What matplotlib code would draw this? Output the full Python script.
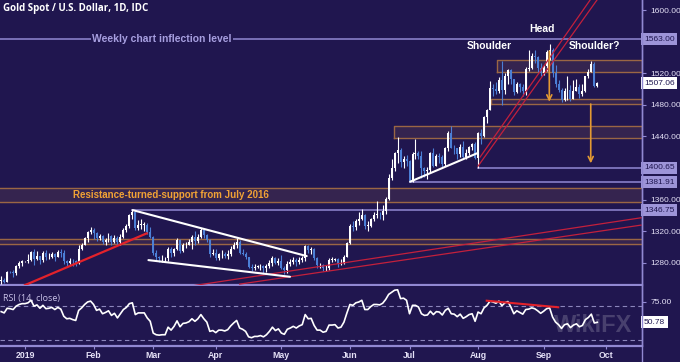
import numpy as np
import pandas as pd
import matplotlib
matplotlib.use("Agg")
import matplotlib.pyplot as plt
import matplotlib.transforms as mtrans
from matplotlib.lines import Line2D

# ---------------- data ----------------
first_day, last_day = "2018-12-20", "2019-09-26"

opens = [1257,1258,1256,1269,1268,1267,1276,1280,
 1282,1282,1284,1294,1285,1289,1284,1292,1287,1288,1291,1288,1294,1292,1282,1280,1283,1282,1280,1297,1303,1312,1319,
 1321,1318,1311,1314,1307,1309,1314,1307,1311,1306,1313,1322,1327,1340,1345,1324,1328,1328,1328,1319,
 1313,1293,1287,1286,1286,1286,1298,1292,1297,1309,1295,1302,1303,1306,1313,1308,1313,1322,1315,1309,1291,
 1292,1286,1291,1291,1289,1291,1298,1303,1307,1293,1291,1287,1275,1273,1275,1275,1276,1273,1276,1280,1286,1280,
 1283,1274,1271,1279,1281,1284,1281,1284,1286,1301,1296,1297,1286,1277,1277,1273,1274,1284,1284,1285,1279,1280,1288,
 1305,1327,1325,1333,1336,1341,1327,1327,1335,1341,1341,1340,1346,1361,1388,1400,1419,1423,1408,1412,
 1409,1384,1418,1419,1415,1400,1396,1397,1419,1403,1415,1414,1405,1425,1445,1426,1425,1418,1427,1414,1419,1427,1431,
 1413,1445,1440,1464,1474,1501,1500,1497,1511,1499,1517,1524,1513,1496,1507,1502,1497,1526,1527,1542,1540,1527,
 1520,1529,1547,1550,1520,1506,1499,1486,1497,1499,1488,1498,1502,1494,1498,1516,1522,1532,1504]

highs = [1263,1261,1270,1270,1271,1277,1283,1284,
 1283,1291,1295,1298,1295,1289,1295,1296,1292,1294,1293,1296,1297,1296,1284,1286,1285,1284,1303,1305,1313,1320,1326,
 1324,1319,1316,1315,1312,1318,1315,1315,1314,1316,1324,1329,1342,1347,1346,1334,1335,1332,1331,1325,
 1314,1296,1289,1290,1288,1300,1300,1299,1311,1310,1305,1306,1310,1315,1320,1316,1324,1323,1317,1310,1298,
 1297,1293,1296,1294,1296,1301,1306,1311,1309,1298,1294,1288,1279,1278,1277,1279,1277,1278,1284,1289,1287,1286,
 1290,1276,1282,1285,1287,1286,1288,1289,1302,1303,1300,1299,1288,1280,1278,1277,1286,1287,1286,1286,1285,1290,1306,
 1329,1333,1336,1344,1348,1342,1333,1337,1345,1358,1345,1353,1363,1393,1411,1420,1439,1425,1415,1416,
 1410,1420,1437,1422,1421,1401,1401,1420,1426,1418,1419,1416,1427,1447,1453,1429,1426,1430,1434,1424,1428,1432,1433,
 1446,1449,1466,1475,1510,1506,1509,1515,1535,1520,1526,1525,1513,1509,1508,1506,1528,1549,1546,1550,1542,1533,
 1530,1550,1557,1552,1530,1512,1501,1501,1517,1505,1512,1513,1507,1507,1517,1525,1535,1534,1509]

lows = [1253,1254,1256,1267,1262,1265,1273,1276,
 1281,1280,1283,1277,1284,1279,1281,1284,1285,1286,1283,1287,1288,1279,1276,1278,1276,1276,1279,1296,1302,1307,1316,
 1310,1308,1309,1304,1302,1306,1302,1305,1302,1303,1311,1319,1324,1336,1321,1322,1323,1320,1316,1312,
 1290,1283,1281,1281,1281,1283,1288,1289,1296,1292,1294,1299,1302,1298,1303,1305,1312,1312,1307,1288,1290,
 1284,1284,1286,1286,1285,1289,1297,1299,1291,1290,1285,1273,1270,1271,1274,1271,1266,1268,1274,1276,1278,1277,
 1272,1266,1267,1276,1278,1276,1279,1281,1282,1293,1291,1284,1274,1273,1270,1270,1271,1281,1282,1275,1277,1279,1287,
 1304,1320,1322,1328,1334,1323,1320,1326,1333,1337,1336,1334,1342,1359,1385,1396,1406,1401,1400,1402,
 1382,1382,1411,1411,1387,1389,1386,1394,1401,1402,1406,1401,1403,1422,1425,1418,1412,1414,1413,1412,1416,1423,1412,
 1400.65,1430,1439,1457,1473,1491,1494,1495,1480,1494,1506,1507,1493,1495,1496,1491,1492,1523,1525,1533,1521,1516,
 1518,1523,1537,1515,1503,1496,1484,1485,1486,1485,1487,1497,1489,1491,1496,1514,1521,1503,1503]

closes = [1258,1256,1269,1268,1267,1276,1280,1282,
 1282,1284,1294,1285,1289,1284,1292,1287,1288,1291,1288,1294,1292,1282,1280,1283,1282,1280,1297,1303,1312,1319,1321,
 1318,1311,1314,1307,1309,1314,1307,1311,1306,1313,1322,1327,1340,1345,1324,1328,1328,1328,1319,1313,
 1293,1287,1286,1286,1286,1298,1292,1297,1309,1295,1302,1303,1306,1313,1308,1313,1322,1315,1309,1291,1292,
 1286,1291,1291,1289,1291,1298,1303,1307,1293,1291,1287,1275,1273,1275,1275,1276,1273,1276,1280,1286,1280,1283,
 1274,1271,1279,1281,1284,1281,1284,1286,1301,1296,1297,1286,1277,1277,1273,1274,1284,1284,1285,1279,1280,1288,1305,
 1327,1325,1333,1336,1341,1327,1327,1335,1341,1341,1340,1346,1361,1388,1400,1419,1423,1408,1412,1409,
 1384,1418,1419,1415,1400,1396,1397,1419,1403,1415,1414,1405,1425,1445,1426,1425,1418,1427,1414,1419,1427,1431,1413,
 1445,1440,1464,1474,1501,1500,1497,1511,1499,1517,1524,1513,1496,1507,1502,1497,1526,1527,1542,1540,1527,1520,
 1529,1547,1550,1520,1506,1499,1486,1497,1499,1488,1498,1502,1494,1498,1516,1522,1532,1504,1507.06]

rsi = [63.5,62,67.5,67,66,70,72,73,
 73,74,77,70,71.5,67.5,71,67,67.5,68.5,66,68.5,66.5,58,55,55.5,54,53,65,68,72,75,76,
 72,65,66.5,61,62.5,64.5,59,61.5,56,61,66,68.5,73,74,60,62,62,62,56,52,
 38,36,35.5,36,36,45,41.5,46,52.5,45.5,49.5,50,51.5,55,52,55,60,55,51,40,41,
 38.5,41.5,41.5,40.5,42,46.5,50,53,44,42.5,40,33.5,32.5,34,34,35,33.5,36,40,45,41,43,
 38,36.5,42.5,44,46,44,46.5,48,60,55,55.5,47,41.5,41.5,39,40,47.5,47.5,48,44,45,51,62,
 72,71,74,75,77,66,66,69.5,72,72,71.5,73.5,78,84,86.5,89,89.5,79,79.5,77,
 61,71,71,69,61,59,59.5,64,60,63.5,63,59.5,65,67.5,61,60.5,57.5,60.5,55.5,57.5,60,61,52,
 63,61,68,71,76,75,73.5,76,70.5,74,75.5,69,61,64.5,62.5,60.5,66,66.5,68,67,64.5,61.5,
 64,67,68,57,51,48,43.5,48,49,44.5,47.5,49,45.5,47,54,56.5,60.5,50,50.78]

month_starts = ["2019-01-01","2019-02-01","2019-03-01","2019-04-01","2019-05-01",
                "2019-06-01","2019-07-01","2019-08-01","2019-09-01","2019-10-01"]
month_labels = ["2019","Feb","Mar","Apr","May","Jun","Jul","Aug","Sep","Oct"]

price_ticks = [1280, 1320, 1360, 1440, 1480, 1520, 1600]
boxed_levels = [1563.00, 1400.65, 1381.91, 1346.75]
last_price = 1507.06
rsi_ticks = [75]
last_rsi = 50.78

# annotation geometry in (trading-day index, price)
weekly_level = 1563.00
level_starts = {1400.65: 160, 1381.91: 137, 1346.75: 44}
full_bands = [(1357, 1375), (1303.5, 1310)]
boxes = [(131.8, 1437.6, 1453), (166.3, 1521.5, 1536.3), (164.3, 1481, 1487)]
red_trend = [(8.0, 1251.9), (48.8, 1317.3)]
red_channel = [[(60, 1248.6), (214.7, 1337.1)], [(80, 1253.1), (214.7, 1327.8)]]
steep_channel = [[(160.0, 1402.5), (199.9, 1612.7)], [(160.7, 1414.0), (197.6, 1612.7)]]
white_lines = [[(44.1, 1346.8), (102.5, 1288.6)], [(49.4, 1283.5), (96.9, 1262.4)],
               [(137.2, 1382.7), (159.6, 1418.6)]]
arrows = [(183.9, 1548, 1484), (197.8, 1481, 1406)]
rsi_div = [(162.9, 76.5), (186.9, 68.7)]

# ---------------- style ----------------
BG = "#20164f"
LAV = "#9188d2"
LAVBOX = "#9d94d8"
ORANGE_EDGE = "#9a6644"
ORANGE_FILL = "#35244f"
ARROW = "#e39a32"
BEAR = "#4c7fd6"
TXT = "#e4e0f6"

W, H = 680, 362
fig = plt.figure(figsize=(W / 100, H / 100), dpi=100, facecolor=BG)
axp = fig.add_axes([0, (H - 285) / H, 642 / W, 285 / H], facecolor=BG)
axr = fig.add_axes([0, (H - 346) / H, 642 / W, 60 / H], facecolor=BG, sharex=axp)

ext = pd.bdate_range(first_day, "2019-10-31")
n = len(closes)
x = np.arange(n)
o = np.array(opens, float); h = np.array(highs, float)
l = np.array(lows, float); c = np.array(closes, float)

up = c >= o
cols = np.where(up, "#ffffff", BEAR)
axp.vlines(x, l, h, colors=cols, lw=0.8, zorder=3)
body_b = np.minimum(o, c)
body_h = np.maximum(np.abs(c - o), 0.8)
axp.bar(x, body_h, bottom=body_b, width=0.66, color=cols, edgecolor="none", zorder=4)

xmin, xmax = -0.4, 215
axp.set_xlim(xmin, xmax)
axp.set_ylim(1252, 1612.7)

# bands / boxes
for lo, hi in full_bands:
    axp.axhspan(lo, hi, color=ORANGE_FILL, zorder=1)
    axp.axhline(lo, color=ORANGE_EDGE, lw=1, zorder=2)
    axp.axhline(hi, color=ORANGE_EDGE, lw=1, zorder=2)
for x0, lo, hi in boxes:
    axp.fill_between([x0, xmax], lo, hi, color=ORANGE_FILL, zorder=1, lw=0)
    axp.plot([x0, xmax, xmax, x0, x0], [lo, lo, hi, hi, lo], color=ORANGE_EDGE, lw=1, zorder=2)

# level lines
axp.axhline(weekly_level, color=LAV, lw=1.1, zorder=2)
for lv, xs in level_starts.items():
    axp.plot([xs, xmax], [lv, lv], color=LAV, lw=1.1, zorder=2)

# trend lines
axp.plot(*zip(*red_trend), color="#e3222b", lw=1.6, zorder=5)
for seg in red_channel:
    axp.plot(*zip(*seg), color="#c3203c", lw=0.9, zorder=5)
for seg in steep_channel:
    axp.plot(*zip(*seg), color="#c3203c", lw=0.9, zorder=5)
for seg in white_lines:
    axp.plot(*zip(*seg), color="white", lw=1.5, zorder=5, solid_capstyle="round")

for xa, y0, y1 in arrows:
    axp.annotate("", xy=(xa, y1), xytext=(xa, y0),
                 arrowprops=dict(arrowstyle="->", color=ARROW, lw=1.2, mutation_scale=9,
                                 shrinkA=0, shrinkB=0), zorder=6)

# texts
bold = dict(family=["Liberation Sans", "DejaVu Sans"], weight="bold")
axp.text(54.0, weekly_level, "Weekly chart inflection level", color="#a79fe0", fontsize=7.5,
         ha="center", va="center", zorder=6,
         bbox=dict(boxstyle="square,pad=0.15", fc=BG, ec="none"), **bold)
axp.text(181.5, 1576, "Head", color="white", fontsize=7.5, ha="center", va="center", zorder=7, **bold)
axp.text(163.9, 1554.4, "Shoulder", color="white", fontsize=7.5, ha="center", va="center", zorder=7, **bold)
axp.text(199.1, 1554.4, "Shoulder?", color="white", fontsize=7.5, ha="center", va="center", zorder=7, **bold)
axp.text(56.9, 1366.5, "Resistance-turned-support from July 2016", color="#f2a235", fontsize=7,
         ha="center", va="center", zorder=7, **bold)

fig.text(3 / W, 1 - 9 / H, "Gold Spot / U.S. Dollar, 1D, IDC", color="white", fontsize=7,
         ha="left", va="center", family=["Open Sans", "DejaVu Sans"], weight="bold")

# axes cosmetics
for ax in (axp, axr):
    for s in ("left", "top"):
        ax.spines[s].set_visible(False)
    ax.spines["right"].set_color(LAV)
    ax.spines["right"].set_linewidth(1)
    ax.spines["bottom"].set_color(LAV)
    ax.spines["bottom"].set_linewidth(1.6)
    ax.yaxis.tick_right()
    ax.tick_params(axis="y", colors=LAV, labelcolor=TXT, length=3, width=0.8, pad=3, labelsize=6)

axp.set_yticks(price_ticks)
axp.set_yticklabels([f"{v:.2f}" for v in price_ticks], family=["Liberation Sans", "DejaVu Sans"])
axp.tick_params(axis="x", bottom=False, labelbottom=False)

ytr = mtrans.blended_transform_factory(axp.transAxes, axp.transData)
for lv in boxed_levels:
    axp.text(1.0 + 2 / 642, lv, f"{lv:.2f}", transform=ytr, fontsize=6, color="#1f1650",
             ha="left", va="center", clip_on=False, zorder=10,
             family=["Liberation Sans", "DejaVu Sans"],
             bbox=dict(boxstyle="square,pad=0.3", fc=LAVBOX, ec="none"))
axp.text(1.0 + 2 / 642, last_price, f"{last_price:.2f}", transform=ytr, fontsize=6, color="#1f1650",
         ha="left", va="center", clip_on=False, zorder=10,
         family=["Liberation Sans", "DejaVu Sans"],
         bbox=dict(boxstyle="square,pad=0.3", fc="white", ec="none"))

# RSI panel
axr.plot(x, rsi, color="white", lw=1.2, zorder=4)
axr.plot(*zip(*rsi_div), color="#e3222b", lw=1.5, zorder=5)
for lv in (70, 30):
    axr.axhline(lv, color="#8b85bb", lw=0.8, ls=(0, (4, 3)), zorder=2)
axr.set_ylim(22.6, 94)
axr.set_yticks(rsi_ticks)
axr.set_yticklabels([f"{v:.2f}" for v in rsi_ticks], family=["Liberation Sans", "DejaVu Sans"])
rtr = mtrans.blended_transform_factory(axr.transAxes, axr.transData)
axr.text(1.0 + 2 / 642, last_rsi, f"{last_rsi:.2f}", transform=rtr, fontsize=6, color="#1f1650",
         ha="left", va="center", clip_on=False, zorder=10,
         family=["Liberation Sans", "DejaVu Sans"],
         bbox=dict(boxstyle="square,pad=0.3", fc="white", ec="none"))
axr.text(3 / 642, 0.8, "RSI (14, close)", transform=axr.transAxes, color="#c9c2e8", fontsize=6.5,
         ha="left", va="center", family=["Open Sans", "DejaVu Sans"])
axr.text(0.985, 0.35, "WikiFX", transform=axr.transAxes, color="white", alpha=0.18, fontsize=17,
         ha="right", va="center", **bold)

tick_pos = [int(ext.searchsorted(pd.Timestamp(d))) for d in month_starts]
axr.set_xticks(tick_pos)
axr.set_xticklabels(month_labels)
axr.tick_params(axis="x", colors=LAV, labelcolor=TXT, length=2, width=0.8, pad=1.5, labelsize=6.3)
for t in axr.get_xticklabels():
    t.set_family(["Liberation Sans", "DejaVu Sans"])
    t.set_weight("bold")

fig.add_artist(Line2D([642 / W, 642 / W], [0, 1], color=LAV, lw=1, transform=fig.transFigure))

fig.savefig("out.png", dpi=100, facecolor=BG)
